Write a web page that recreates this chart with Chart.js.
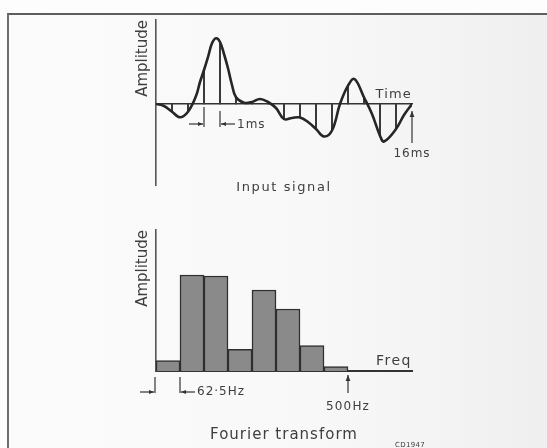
<!DOCTYPE html>
<html><head><meta charset="utf-8">
<script src="https://cdn.jsdelivr.net/npm/chart.js@4/dist/chart.umd.min.js"></script>
<style>
html,body{margin:0;padding:0;background:#fff;}
#wrap{position:relative;width:547px;height:448px;overflow:hidden;background:#fdfdfd;}
#frame{position:absolute;left:7px;top:13px;width:560px;height:460px;border-left:2px solid #6e6e6e;border-top:2px solid #5e5e5e;
 background:linear-gradient(90deg,#fbfbfb 0%,#f8f8f8 55%,#eeeeee 100%);}
canvas{position:absolute;left:0;}
</style></head><body>
<div id="wrap"><div id="frame"></div>
<canvas id="sig" width="547" height="210" style="top:0"></canvas>
<canvas id="fft" width="547" height="238" style="top:210px"></canvas>
</div>
<script>
// ---- Input signal (time in ms, amplitude in arbitrary units) ----
const signalTimeMs = [0,0.5,1,1.5,2,2.5,2.75,3,3.25,3.5,3.75,4,4.25,4.5,4.75,5,5.5,6,6.5,7,7.5,8,8.5,9,9.5,10,10.5,11,11.5,12,12.4,13,13.5,14,14.25,15,15.5,16];
const signalAmplitude = [0,-0.2,-0.77,-1.33,-0.77,0.8,2.2,3.4,4.7,6.07,6.57,6.2,5.0,3.57,1.9,0.67,0.13,0.2,0.5,0.2,-0.4,-1.5,-1.4,-1.35,-1.8,-2.5,-3.25,-2.65,0,1.83,2.5,0.67,-1.0,-3.17,-3.75,-2.5,-1.1,0];
// samples taken every 1 ms
const sampleTimeMs = [1,2,3,4,5,6,7,8,9,10,11,12,13,14,15];
const sampleAmplitude = [-0.77,-0.77,3.4,6.2,0.67,0.2,0.2,-1.5,-1.35,-2.5,-2.65,1.83,0.67,-3.17,-2.5];
// ---- Fourier transform (62.5 Hz bins) ----
const binCentreHz = [31.25,93.75,156.25,218.75,281.25,343.75,406.25,468.75];
const spectrumAmplitude = [1.03,9.6,9.5,2.17,8.1,6.2,2.53,0.43];
const binWidthHz = 62.5;
const freqAxisMaxHz = 666.67;
// ---- Text ----
const yTitle = 'Amplitude';
const signalLabels = ['Time','1ms','16ms','Input signal'];
const spectrumLabels = ['Freq','62·5Hz','500Hz','Fourier transform','CD1947'];

const INK = '#333333', TXT = '#3e3e3e', FONT = '"DejaVu Sans", sans-serif';

function line(ctx,x1,y1,x2,y2){ctx.beginPath();ctx.moveTo(x1,y1);ctx.lineTo(x2,y2);ctx.stroke();}
function arrow(ctx,x1,y1,x2,y2,h){
  line(ctx,x1,y1,x2,y2);
  const a=Math.atan2(y2-y1,x2-x1), w=h*0.4;
  ctx.beginPath();
  ctx.moveTo(x2,y2);
  ctx.lineTo(x2-h*Math.cos(a)+w*Math.sin(a), y2-h*Math.sin(a)-w*Math.cos(a));
  ctx.lineTo(x2-h*Math.cos(a)-w*Math.sin(a), y2-h*Math.sin(a)+w*Math.cos(a));
  ctx.closePath(); ctx.fill();
}
function text(ctx,s,x,y,size,align,spacing){
  ctx.save();
  ctx.font = size+'px '+FONT;
  ctx.fillStyle = TXT;
  ctx.textBaseline='middle';
  ctx.letterSpacing = (spacing==null?1.2:spacing)+'px';
  let w = ctx.measureText(s).width;
  ctx.textAlign='left';
  let sx = align==='center'? x-w/2 : align==='right'? x-w : x;
  ctx.fillText(s,sx,y);
  ctx.restore();
}

const sigAnnot = {id:'sigAnnot', afterDraw(chart){
  const {ctx, scales:{x,y}} = chart;
  const y0 = y.getPixelForValue(0);
  ctx.save(); ctx.strokeStyle=INK; ctx.fillStyle=INK; ctx.lineWidth=1.2;
  text(ctx, signalLabels[0], x.right, y0-9, 13, 'right');
  const xa = x.getPixelForValue(3), xb = x.getPixelForValue(4);
  line(ctx,xa,y0+3,xa,y0+23); line(ctx,xb,y0+7,xb,y0+23);
  arrow(ctx,xa-15,y0+20,xa-1,y0+20,5); arrow(ctx,xb+15,y0+20,xb+1,y0+20,5);
  text(ctx, signalLabels[1], xb+17, y0+21, 12, 'left', 1);
  const x16 = x.getPixelForValue(16);
  arrow(ctx,x16,y0+39,x16,y0+7,6);
  text(ctx, signalLabels[2], x16, y0+50, 12, 'center', 1);
  text(ctx, signalLabels[3], (x.left+x.right)/2, y.bottom+3, 13, 'center', 1.6);
  ctx.restore();
}};

const fftAnnot = {id:'fftAnnot', afterDraw(chart){
  const {ctx, scales:{x,y}} = chart;
  const b = y.getPixelForValue(0);
  ctx.save(); ctx.strokeStyle=INK; ctx.fillStyle=INK; ctx.lineWidth=1.2;
  text(ctx, spectrumLabels[0], x.right, b-10, 14, 'right', 1.5);
  const x0 = x.getPixelForValue(0)-1, x1 = x.getPixelForValue(binWidthHz);
  line(ctx,x0,b+6,x0,b+22); arrow(ctx,x0-15,b+21,x0-1,b+21,5);
  line(ctx,x1,b+6,x1,b+22); arrow(ctx,x1+15,b+21,x1+1,b+21,5);
  text(ctx, spectrumLabels[1], x1+17, b+21, 12, 'left', 1);
  const x5 = x.getPixelForValue(500);
  arrow(ctx,x5,b+22,x5,b+4,6);
  text(ctx, spectrumLabels[2], x5, b+36, 12, 'center', 1.2);
  text(ctx, spectrumLabels[3], (x.left+x.right)/2, 225, 15, 'center', 1);
  text(ctx, spectrumLabels[4], 395, 235, 7, 'left', 0.3);
  ctx.restore();
}};

const yTitleOpts = {display:true, text:yTitle, align:'end', color:TXT, font:{family:FONT, size:15}, padding:{top:4,bottom:4}};
const hiddenGrid = {display:false, drawTicks:false, offset:false};

new Chart(document.getElementById('sig'), {
  type:'line',
  data:{datasets:[
    {type:'line', data: signalTimeMs.map((t,i)=>({x:t,y:signalAmplitude[i]})), borderColor:'#262626', borderWidth:2.6, pointRadius:0, tension:0.4, fill:false, order:0},
    {type:'bar', data: sampleTimeMs.map((t,i)=>({x:t,y:sampleAmplitude[i]})), backgroundColor:'#3a3a3a', barThickness:1.4, order:1}
  ]},
  options:{
    responsive:false, animation:false, devicePixelRatio:1,
    layout:{padding:{left:130,right:135,top:20,bottom:25}},
    plugins:{legend:{display:false}, tooltip:{enabled:false}},
    scales:{
      x:{type:'linear', min:0, max:16, offset:false, position:{y:0}, grid:hiddenGrid, ticks:{display:false}, border:{color:'#333', width:1.6}},
      y:{type:'linear', min:-8.1, max:8.4, grid:hiddenGrid, ticks:{display:false}, border:{color:'#555', width:1.6}, title:yTitleOpts}
    }
  },
  plugins:[sigAnnot]
});

new Chart(document.getElementById('fft'), {
  type:'bar',
  data:{datasets:[{data: binCentreHz.map((f,i)=>({x:f,y:spectrumAmplitude[i]})), backgroundColor:'#8a8a8a', borderColor:'#2e2e2e', borderWidth:1.5, barPercentage:1, categoryPercentage:1}]},
  options:{
    responsive:false, animation:false, devicePixelRatio:1,
    layout:{padding:{left:130,right:135,top:20,bottom:77}},
    plugins:{legend:{display:false}, tooltip:{enabled:false}},
    scales:{
      x:{type:'linear', min:0, max:freqAxisMaxHz, offset:false, grid:hiddenGrid, ticks:{display:false, stepSize:binWidthHz, includeBounds:false}, border:{color:'#333', width:2}},
      y:{type:'linear', min:0, max:14.1, grid:hiddenGrid, ticks:{display:false}, border:{color:'#555', width:1.6}, title:yTitleOpts}
    }
  },
  plugins:[fftAnnot]
});
</script>
</body></html>
